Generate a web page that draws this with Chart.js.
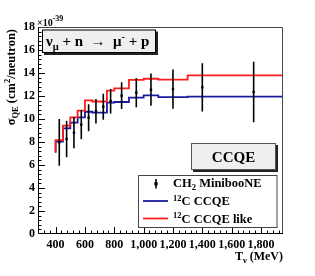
<!DOCTYPE html>
<html><head><meta charset="utf-8">
<script src="https://cdn.jsdelivr.net/npm/chart.js@4"></script>
<style>html,body{margin:0;padding:0;background:#fff;}canvas{display:block}</style>
</head><body>
<canvas id="c" width="315" height="276"></canvas>
<script>
// ---- data ----
const binEdges = [400,450,500,550,600,650,700,750,800,900,1000,1100,1300,1500,2000];
const ccqe12C = [7.07,8.03,9.19,9.68,10.14,10.63,10.55,10.55,11.42,11.48,11.86,12.06,11.90,11.94];
const ccqeLike12C = [7.16,8.17,9.42,10.14,10.72,11.62,11.52,11.52,12.46,12.67,13.40,13.50,13.43,13.80];
const dataE = [425,475,525,575,625,675,725,775,850,950,1050,1200,1400,1750];
const dataSigma = [7.97,8.26,8.81,9.51,10.11,10.68,11.07,11.54,12.03,12.29,12.55,12.60,12.75,12.35];
const dataErr = [2.03,1.58,1.36,1.26,1.17,1.07,1.13,1.07,1.16,1.27,1.40,1.70,2.10,2.63];
const xTicks = [400,600,800,1000,1200,1400,1600,1800];
const yTicks = [0,2,4,6,8,10,12,14,16,18];
const legendLabels = ['CH2 MinibooNE','12C CCQE','12C CCQE like'];

const FONT = '"Liberation Serif", "Times New Roman", serif';
const BLUE = '#1c1ca0', RED = '#ff1c1c';

function stepPoints(edges, vals){
  const pts = vals.map((v,i)=>({x:edges[i], y:v}));
  pts.push({x:edges[edges.length-1], y:vals[vals.length-1]});
  return pts;
}
function f(size){ return 'bold ' + size + 'px ' + FONT; }
function rich(ctx, parts, x, y, measureOnly){
  let w = 0;
  for (const p of parts){
    ctx.font = f(p.s);
    if (!measureOnly) ctx.fillText(p.t, x + w, y + (p.dy||0));
    w += ctx.measureText(p.t).width;
  }
  return w;
}
function shadowBox(ctx, x1, y1, x2, y2, fill, border, sh){
  ctx.fillStyle = '#222';
  ctx.fillRect(x1+sh, y1+sh, x2-x1, y2-y1);
  ctx.fillStyle = fill;
  ctx.fillRect(x1, y1, x2-x1, y2-y1);
  ctx.strokeStyle = border; ctx.lineWidth = 1;
  ctx.strokeRect(x1+0.5, y1+0.5, x2-x1-1, y2-y1-1);
}

const decor = {
  id:'decor',
  afterDatasetsDraw(chart){
    const ctx = chart.ctx, xs = chart.scales.x, ys = chart.scales.y;
    ctx.save();
    ctx.strokeStyle = '#000'; ctx.lineWidth = 1.6;
    dataE.forEach((e,i)=>{
      const px = xs.getPixelForValue(e);
      ctx.beginPath();
      ctx.moveTo(px, ys.getPixelForValue(dataSigma[i]-dataErr[i]));
      ctx.lineTo(px, ys.getPixelForValue(dataSigma[i]+dataErr[i]));
      ctx.stroke();
    });
    ctx.restore();
  },
  afterDraw(chart){
    const ctx = chart.ctx, xs = chart.scales.x, ys = chart.scales.y, a = chart.chartArea;
    ctx.save();
    // frame
    ctx.strokeStyle = '#444'; ctx.lineWidth = 1;
    ctx.beginPath();
    ctx.moveTo(a.left, a.top+0.5); ctx.lineTo(a.right-0.5, a.top+0.5); ctx.lineTo(a.right-0.5, a.bottom);
    ctx.stroke();
    ctx.strokeStyle = '#000';
    ctx.beginPath();
    ctx.moveTo(a.left+0.5, a.top); ctx.lineTo(a.left+0.5, a.bottom-0.5); ctx.lineTo(a.right, a.bottom-0.5);
    ctx.stroke();
    // inside ticks
    ctx.beginPath();
    for (let v = 320; v < 1950; v += 40){
      const px = Math.round(xs.getPixelForValue(v)) + 0.5;
      const len = (v % 200 === 0) ? 7 : 3.5;
      ctx.moveTo(px, a.bottom); ctx.lineTo(px, a.bottom - len);
    }
    for (let k = 1; k < 45; k++){
      const v = k*0.4;
      const py = Math.round(ys.getPixelForValue(v)) + 0.5;
      const len = (k % 5 === 0) ? 7 : 3.5;
      ctx.moveTo(a.left, py); ctx.lineTo(a.left + len, py);
    }
    ctx.stroke();

    ctx.fillStyle = '#000';
    ctx.textBaseline = 'alphabetic';
    ctx.textAlign = 'left';
    // exponent
    rich(ctx, [{t:'\u00d710', s:10},{t:'-39', s:8, dy:-5}], 37, 26);
    // y title (rotated)
    const yParts = [{t:'\u03c3', s:12.5},{t:'QE', s:8.5, dy:3},{t:' (cm', s:12.5},{t:'2', s:8.5, dy:-5},{t:'/neutron)', s:12.5}];
    const yw = rich(ctx, yParts, 0, 0, true);
    ctx.save();
    ctx.translate(14.5, 29 + yw);
    ctx.rotate(-Math.PI/2);
    rich(ctx, yParts, 0, 0);
    ctx.restore();
    // x title
    const xParts = [{t:'T', s:12},{t:'\u03bd', s:8.5, dy:3},{t:' (MeV)', s:12}];
    const xw = rich(ctx, xParts, 0, 0, true);
    rich(ctx, xParts, 283 - xw, 259.5);

    // reaction box
    shadowBox(ctx, 42, 29.5, 156, 53, '#efefef', '#000', 2);
    ctx.fillStyle = '#000';
    rich(ctx, [{t:'\u03bd', s:15},{t:'\u03bc', s:10.5, dy:3.5},{t:' + n  \u2192  \u03bc', s:15},{t:'-', s:10.5, dy:-6},{t:' + p', s:15}], 46, 46);

    // CCQE box
    shadowBox(ctx, 191, 143, 276, 170, '#efefef', '#555', 2);
    ctx.fillStyle = '#000';
    ctx.font = f(15); ctx.textAlign = 'center';
    ctx.fillText('CCQE', 233.5, 161.5);
    ctx.textAlign = 'left';

    // legend
    ctx.fillStyle = '#fff';
    ctx.fillRect(138.5, 175.5, 138.5, 52);
    ctx.strokeStyle = '#444'; ctx.lineWidth = 1;
    ctx.strokeRect(138.5, 175.5, 138.5, 52);
    // error bar symbol
    ctx.strokeStyle = '#000'; ctx.lineWidth = 1.6;
    ctx.beginPath(); ctx.moveTo(156, 179); ctx.lineTo(156, 188.5); ctx.stroke();
    ctx.fillStyle = '#000'; ctx.fillRect(154.4, 182.2, 3.2, 3.2);
    // line symbols
    ctx.lineWidth = 1.8;
    ctx.strokeStyle = BLUE; ctx.beginPath(); ctx.moveTo(143, 201); ctx.lineTo(168, 201); ctx.stroke();
    ctx.strokeStyle = RED; ctx.beginPath(); ctx.moveTo(143, 218.5); ctx.lineTo(168, 218.5); ctx.stroke();
    ctx.fillStyle = '#000';
    rich(ctx, [{t:'CH', s:12.5},{t:'2', s:8.5, dy:2.5},{t:' MinibooNE', s:12.5}], 173, 187);
    rich(ctx, [{t:'12', s:8.5, dy:-4.5},{t:'C CCQE', s:12.5}], 173, 205);
    rich(ctx, [{t:'12', s:8.5, dy:-4.5},{t:'C CCQE like', s:12.5}], 173, 222.5);
    ctx.restore();
  }
};

new Chart(document.getElementById('c').getContext('2d'), {
  type:'scatter',
  data:{datasets:[
    {type:'line', label:legendLabels[1], data:stepPoints(binEdges, ccqe12C), stepped:'after',
     borderColor:BLUE, borderWidth:1.8, pointRadius:0, fill:false, order:2},
    {type:'line', label:legendLabels[2], data:stepPoints(binEdges, ccqeLike12C), stepped:'after',
     borderColor:RED, borderWidth:1.8, pointRadius:0, fill:false, order:1},
    {type:'scatter', label:legendLabels[0], data:dataE.map((e,i)=>({x:e, y:dataSigma[i]})),
     pointStyle:'rect', pointRadius:1.7, backgroundColor:'#000', borderWidth:0, order:0}
  ]},
  options:{
    responsive:false, animation:false, events:[],
    layout:{padding:{left:0, top:27, right:32, bottom:0}},
    plugins:{legend:{display:false}, tooltip:{enabled:false}},
    scales:{
      x:{type:'linear', min:280, max:1950,
         grid:{display:false, drawTicks:false}, border:{display:false},
         afterBuildTicks:s=>{ s.ticks = xTicks.map(v=>({value:v})); },
         afterFit:s=>{ s.height = 42; },
         ticks:{font:{family:FONT, size:12, weight:'bold'}, color:'#000', padding:4, maxRotation:0, autoSkip:false}},
      y:{type:'linear', min:0, max:18,
         grid:{display:false, drawTicks:false}, border:{display:false},
         afterBuildTicks:s=>{ s.ticks = yTicks.map(v=>({value:v})); },
         afterFit:s=>{ s.width = 38; },
         ticks:{font:{family:FONT, size:12, weight:'bold'}, color:'#000', padding:3, autoSkip:false}}
    }
  },
  plugins:[decor]
});
</script>
</body></html>
